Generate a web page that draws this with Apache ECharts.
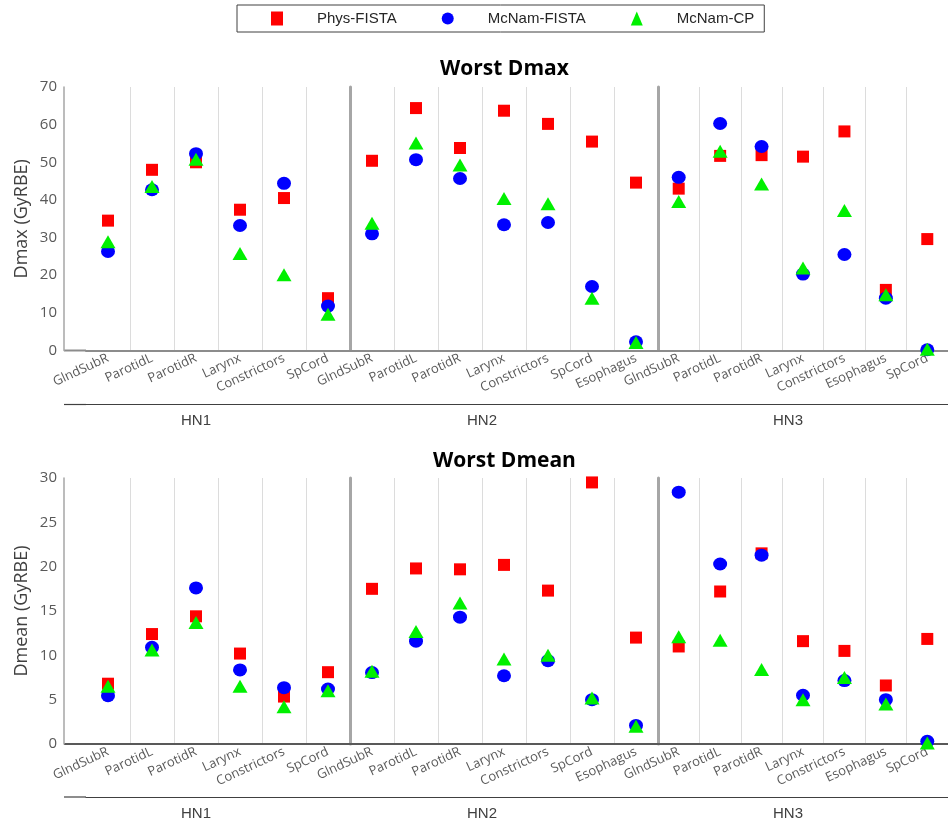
<!DOCTYPE html>
<html>
<head>
<meta charset="utf-8">
<script src="https://cdn.jsdelivr.net/npm/echarts@6/dist/echarts.min.js"></script>
<style>html,body{margin:0;padding:0;background:#fff}#c{width:948px;height:824px}</style>
</head>
<body>
<div id="c"></div>
<script>
// ---- Data ----
const groupNames = ['HN1', 'HN2', 'HN3'];
const organsHN1 = ['GlndSubR', 'ParotidL', 'ParotidR', 'Larynx', 'Constrictors', 'SpCord'];
const organsHN2 = ['GlndSubR', 'ParotidL', 'ParotidR', 'Larynx', 'Constrictors', 'SpCord', 'Esophagus'];
const organsHN3 = ['GlndSubR', 'ParotidL', 'ParotidR', 'Larynx', 'Constrictors', 'Esophagus', 'SpCord'];
const seriesNames = ['Phys-FISTA', 'McNam-FISTA', 'McNam-CP'];

const dmaxPhysFista  = [34.5, 48.0, 50.0, 37.4, 40.5, 13.9,  50.4, 64.4, 53.8, 63.7, 60.2, 55.5, 44.6,  43.0, 51.7, 51.9, 51.5, 58.2, 16.1, 29.6];
const dmaxMcNamFista = [26.3, 42.7, 52.3, 33.2, 44.4, 11.8,  31.0, 50.7, 45.7, 33.4, 34.0, 17.0, 2.3,   46.0, 60.3, 54.2, 20.3, 25.5, 13.9, 0.2];
const dmaxMcNamCP    = [28.9, 43.6, 50.8, 25.8, 20.1, 9.6,   33.8, 55.1, 49.3, 40.4, 39.0, 13.9, 2.1,   39.6, 52.9, 44.2, 21.9, 37.2, 14.8, 0.3];

const dmeanPhysFista  = [6.8, 12.4, 14.4, 10.2, 5.35, 8.1,   17.5, 19.8, 19.7, 20.2, 17.3, 29.5, 12.0,  11.0, 17.2, 21.5, 11.6, 10.5, 6.6, 11.85];
const dmeanMcNamFista = [5.45, 10.9, 17.6, 8.35, 6.35, 6.2,  8.05, 11.6, 14.3, 7.7, 9.4, 5.0, 2.1,     28.4, 20.3, 21.3, 5.5, 7.15, 5.0, 0.3];
const dmeanMcNamCP    = [6.5, 10.6, 13.7, 6.5, 4.2, 6.0,     8.2, 12.7, 15.9, 9.6, 10.0, 5.2, 2.0,     12.1, 11.7, 8.4, 5.0, 7.5, 4.5, 0.1];

// ---- Layout / styles ----
const organGroups = [organsHN1, organsHN2, organsHN3];
const FONT = '"Open Sans", "Liberation Sans", sans-serif';
const colors = ['#ff0000', '#0000ff', '#00f000'];
const symbols = ['rect', 'circle', 'triangle'];
const symbolSizes = [[12, 12], [14, 13], [15, 13]];
const bandW = 44;
const yAxisX = 64;
const plotLeft = 86;
const hnShift = [44, 44, 30];

const charts = [
  { title: 'Worst Dmax', titleLeft: 435, titleTop: 54, yName: 'Dmax (GyRBE)', max: 70, interval: 10,
    top: 87, height: 263.5, axisColor: '#8c8c8c', bracketOffset: 54,
    data: [dmaxPhysFista, dmaxMcNamFista, dmaxMcNamCP] },
  { title: 'Worst Dmean', titleLeft: 428, titleTop: 446, yName: 'Dmean (GyRBE)', max: 30, interval: 5,
    top: 478, height: 266, axisColor: '#595959', bracketOffset: 53,
    data: [dmeanPhysFista, dmeanMcNamFista, dmeanMcNamCP] }
];

const grid = [], xAxis = [], yAxis = [], series = [], title = [], graphic = [];

charts.forEach((ch, ci) => {
  title.push({ text: ch.title, left: ch.titleLeft, top: ch.titleTop,
    textStyle: { fontFamily: FONT, fontSize: 21, fontWeight: 'bold', color: '#000' } });
  let left = plotLeft;
  organGroups.forEach((organs, g) => {
    const gi = grid.length;
    const width = organs.length * bandW;
    grid.push({ left: left, width: width, top: ch.top, height: ch.height, containLabel: false });
    // organ axis
    xAxis.push({
      type: 'category', gridIndex: gi, data: organs, position: 'bottom', boundaryGap: true,
      axisLine: { show: true, lineStyle: { color: ch.axisColor, width: 2 } },
      axisTick: { show: false },
      axisLabel: { rotate: 25, interval: 0, margin: 7, fontFamily: FONT,
        fontSize: 13, color: '#595959' },
      splitLine: { show: true, showMinLine: false, showMaxLine: g === 2,
        lineStyle: { color: '#dcdcdc', width: 1 } }
    });
    // group bracket axis
    xAxis.push({
      type: 'category', gridIndex: gi, data: organs, position: 'bottom', offset: ch.bracketOffset,
      axisLine: { show: true, lineStyle: { color: '#404040', width: 1.2 } },
      axisTick: { show: false }, axisLabel: { show: false }, splitLine: { show: false },
      name: groupNames[g], nameLocation: 'middle', nameGap: 9,
      nameTextStyle: { fontFamily: '"Liberation Sans Narrow", "Liberation Sans", sans-serif', fontSize: 15,
        color: '#404040', padding: [0, hnShift[g], 0, 0] }
    });
    yAxis.push(g === 0 ? {
      type: 'value', gridIndex: gi, min: 0, max: ch.max, interval: ch.interval, offset: plotLeft - yAxisX,
      axisLine: { show: true, lineStyle: { color: '#a6a6a6', width: 1.5 } },
      axisTick: { show: false },
      axisLabel: { fontFamily: FONT, fontSize: 15, color: '#595959', margin: 7 },
      splitLine: { show: false },
      name: ch.yName, nameLocation: 'middle', nameGap: 33,
      nameTextStyle: { fontFamily: FONT, fontSize: 18, color: '#404040' }
    } : {
      type: 'value', gridIndex: gi, min: 0, max: ch.max, interval: ch.interval,
      axisLine: { show: true, lineStyle: { color: '#a6a6a6', width: 3 } },
      axisTick: { show: false }, axisLabel: { show: false }, splitLine: { show: false }
    });
    const start = organGroups.slice(0, g).reduce((s, a) => s + a.length, 0);
    ch.data.forEach((arr, si) => {
      series.push({
        type: 'scatter', name: seriesNames[si], xAxisIndex: gi * 2, yAxisIndex: gi,
        symbol: symbols[si], symbolSize: symbolSizes[si],
        itemStyle: { color: colors[si], opacity: 1 },
        data: arr.slice(start, start + organs.length).map((v, k) => [organs[k], v]),
        z: 3 + si, clip: false, silent: true
      });
    });
    left += width;
  });
  const axisY = ch.top + ch.height;
  graphic.push({ type: 'line', shape: { x1: yAxisX, y1: axisY, x2: plotLeft, y2: axisY },
    style: { stroke: ch.axisColor, lineWidth: 2 } });
  graphic.push({ type: 'line', shape: { x1: yAxisX, y1: axisY + ch.bracketOffset, x2: plotLeft, y2: axisY + ch.bracketOffset },
    style: { stroke: '#404040', lineWidth: 1.2 } });
});

const chart = echarts.init(document.getElementById('c'), null, { renderer: 'canvas' });
chart.setOption({
  animation: false,
  backgroundColor: '#fff',
  title: title,
  legend: {
    data: seriesNames, left: 237, top: 5, padding: [6, 10, 6, 34], itemGap: 45,
    itemWidth: 12, itemHeight: 14, borderColor: '#404040', borderWidth: 1,
    textStyle: { fontFamily: '"Liberation Sans Narrow", "Liberation Sans", sans-serif', fontSize: 15, color: '#262626', padding: [0, 0, 0, 29] }
  },
  grid: grid, xAxis: xAxis, yAxis: yAxis, series: series, graphic: graphic
});
</script>
</body>
</html>
